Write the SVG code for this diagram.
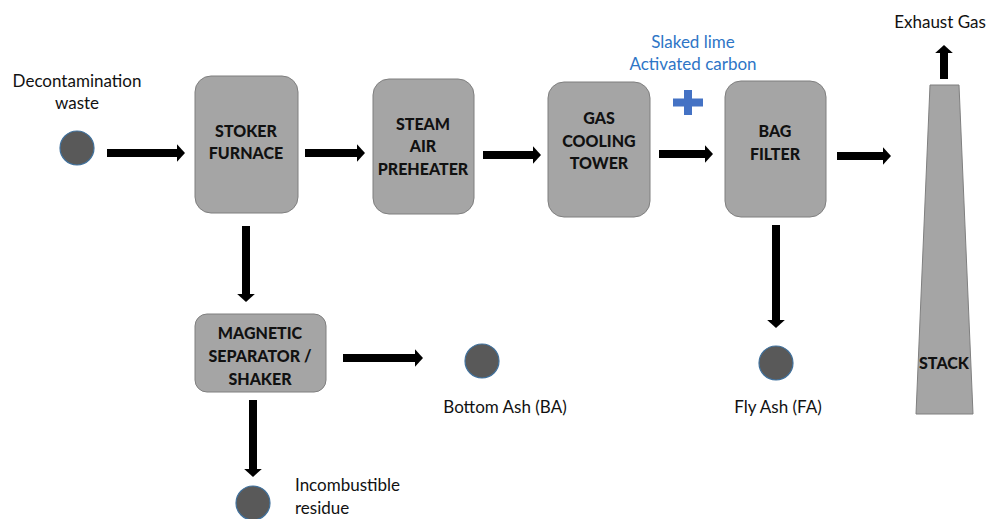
<svg xmlns="http://www.w3.org/2000/svg" width="990" height="519" viewBox="0 0 990 519">
<defs>
<style>
.box{fill:#a5a5a5;stroke:#7f7f7f;stroke-width:1}
.lbl{font-family:Lato,"Liberation Sans",sans-serif;font-weight:900;font-size:16px;fill:#111;text-anchor:middle}
.txt{font-family:Lato,"Liberation Sans",sans-serif;font-size:17px;fill:#111}
.blue{font-family:Lato,"Liberation Sans",sans-serif;font-size:17px;fill:#2e75c6;text-anchor:middle}
.dot{fill:#595959;stroke:#41719c;stroke-width:1.2}
.arr{stroke:#000;stroke-width:8;fill:none}
</style>
<marker id="ah" markerWidth="1" markerHeight="2.2" viewBox="0 0 1 2.2" refX="0" refY="1.1" orient="auto" markerUnits="strokeWidth">
<path d="M0,0 L1,1.1 L0,2.2 z" fill="#000"/>
</marker>
</defs>
<rect width="990" height="519" fill="#fff"/>

<g id="waste">
<text class="txt" x="77" y="87" text-anchor="middle">Decontamination</text>
<text class="txt" x="77" y="109" text-anchor="middle">waste</text>
<circle class="dot" cx="77" cy="148" r="17"/>
</g>

<g id="stoker">
<rect class="box" x="195" y="76" width="103" height="137" rx="16"/>
<text class="lbl" x="246" y="137">STOKER</text>
<text class="lbl" x="246" y="159">FURNACE</text>
</g>

<g id="preheater">
<rect class="box" x="373" y="79" width="101" height="135" rx="16"/>
<text class="lbl" x="423" y="130">STEAM</text>
<text class="lbl" x="423" y="152">AIR</text>
<text class="lbl" x="423" y="175">PREHEATER</text>
</g>

<g id="cooling">
<rect class="box" x="548" y="82" width="102" height="135" rx="16"/>
<text class="lbl" x="599" y="124">GAS</text>
<text class="lbl" x="599" y="147">COOLING</text>
<text class="lbl" x="599" y="169">TOWER</text>
</g>

<g id="additives">
<text class="blue" x="693" y="48">Slaked lime</text>
<text class="blue" x="693" y="70">Activated carbon</text>
<path d="M684,90 H692 V98.5 H703 V106.5 H692 V115 H684 V106.5 H673 V98.5 H684 z" fill="#4472c4"/>
</g>

<g id="bagfilter">
<rect class="box" x="725" y="81" width="101" height="136" rx="16"/>
<text class="lbl" x="775" y="137">BAG</text>
<text class="lbl" x="775" y="160">FILTER</text>
</g>

<g id="stack">
<polygon class="box" points="930,85 959,85 973,414 916,414"/>
<text class="lbl" x="944" y="369">STACK</text>
<text class="txt" x="940" y="28" text-anchor="middle">Exhaust Gas</text>
</g>

<g id="magnetic">
<rect class="box" x="195" y="314" width="131" height="78" rx="12"/>
<text class="lbl" x="260" y="339">MAGNETIC</text>
<text class="lbl" x="260" y="362">SEPARATOR /</text>
<text class="lbl" x="260" y="385">SHAKER</text>
</g>

<g id="bottomash">
<circle class="dot" cx="482" cy="361" r="17"/>
<text class="txt" x="505" y="413" text-anchor="middle">Bottom Ash (BA)</text>
</g>

<g id="flyash">
<circle class="dot" cx="776" cy="363" r="17"/>
<text class="txt" x="778" y="413" text-anchor="middle">Fly Ash (FA)</text>
</g>

<g id="residue">
<circle class="dot" cx="253" cy="503" r="17"/>
<text class="txt" x="295" y="491">Incombustible</text>
<text class="txt" x="295" y="514">residue</text>
</g>

<g id="connectors">
<line class="arr" x1="107" y1="153" x2="177" y2="153" marker-end="url(#ah)"/>
<line class="arr" x1="305" y1="153" x2="357" y2="153" marker-end="url(#ah)"/>
<line class="arr" x1="483" y1="155" x2="533" y2="155" marker-end="url(#ah)"/>
<line class="arr" x1="659" y1="154" x2="705" y2="154" marker-end="url(#ah)"/>
<line class="arr" x1="837" y1="156" x2="883" y2="156" marker-end="url(#ah)"/>
<line class="arr" x1="944" y1="79" x2="944" y2="53" marker-end="url(#ah)"/>
<line class="arr" x1="246" y1="226" x2="246" y2="294" marker-end="url(#ah)"/>
<line class="arr" x1="776" y1="225" x2="776" y2="320" marker-end="url(#ah)"/>
<line class="arr" x1="343" y1="358" x2="415" y2="358" marker-end="url(#ah)"/>
<line class="arr" x1="253" y1="400" x2="253" y2="469" marker-end="url(#ah)"/>
</g>
</svg>
